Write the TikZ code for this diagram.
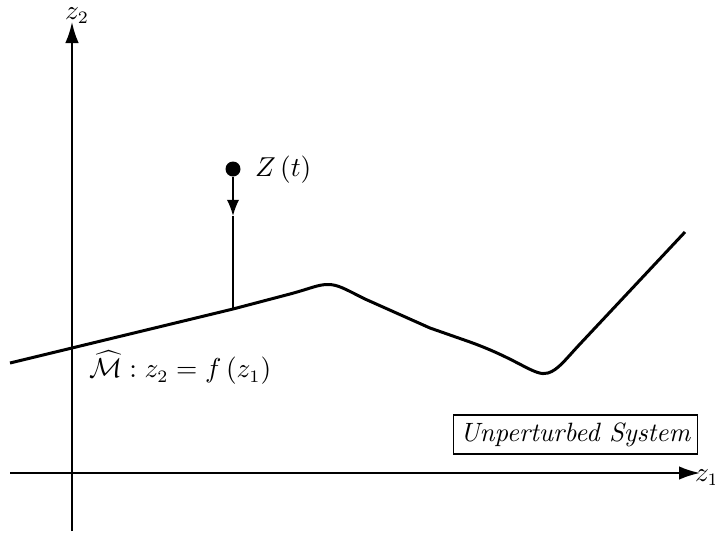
\documentclass[tikz,border=0pt]{standalone}
\usetikzlibrary{arrows.meta}
\begin{document}
\begin{tikzpicture}[x=0.4pt,y=-0.4pt,
  every node/.style={font=\fontsize{10.6}{12.5}\selectfont},
  axis/.style={line width=0.8pt,-{Latex[length=8.4pt,width=5.4pt]}},
  curvestyle/.style={line width=1.2pt,line join=round},
  lbl/.style={inner sep=1pt}]
\useasboundingbox (0,0) rectangle (715,536);
% axes
\coordinate (x0) at (10,473);
\coordinate (x1) at (700,473);
\coordinate (y0) at (72,531);
\coordinate (y1) at (72,22);
\draw[axis] (x0) -- (x1);
\draw[axis] (y0) -- (y1);
\node[lbl,anchor=west] (z1lbl) at (692,478) {$z_1$};
\node[lbl] (z2lbl) at (77,16) {$z_2$};
% curve
\draw[curvestyle] (10,363) -- (233,309) -- (290,294)
  .. controls (312,288) and (318,284.5) .. (328,284.5)
  .. controls (338,284.5) and (345,289) .. (365,299)
  -- (430,328) -- (470,342)
  .. controls (520,360) and (535,377) .. (548,373)
  .. controls (558,370) and (565,360) .. (580,344) -- (685,232);
% point Z(t)
\coordinate (foot) at (233,309);
\coordinate (mid) at (233,216);
\node[circle,fill,inner sep=0pt,minimum size=6pt] (dot) at (233,169) {};
\draw[line width=0.8pt,-{Latex[length=6.5pt,width=5pt]}] (dot) -- (mid);
\draw[line width=0.8pt] (mid) -- (foot);
\node[lbl,anchor=west] (zt) at (252,170) {$Z\,(t)$};
% manifold label
\node[lbl,anchor=west] (mlbl) at (86,368) {$\widehat{\mathcal{M}}: z_2 = f\,(z_1)$};
% box
\node[draw,line width=0.5pt,inner xsep=2.5pt,inner ysep=3pt] (box) at (575.5,434.5) {\textit{Unperturbed System}};
\end{tikzpicture}
\end{document}
